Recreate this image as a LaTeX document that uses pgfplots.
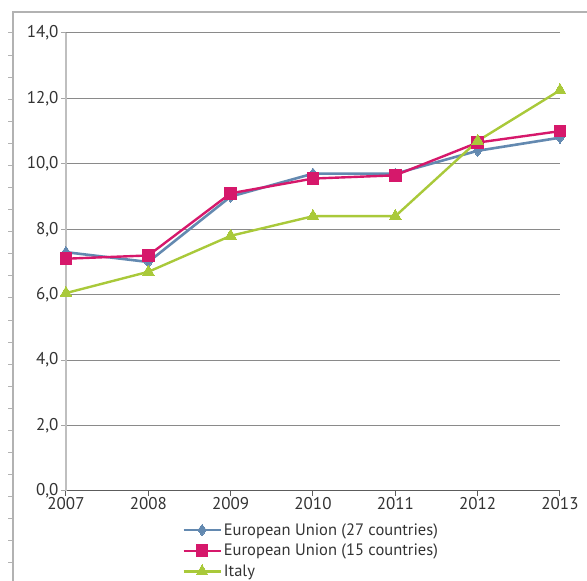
\documentclass[border=0pt]{standalone}
\usepackage{fontspec}
\setmainfont{PT Sans}
\usepackage{pgfplots}
\pgfplotsset{compat=1.18}
\definecolor{eublue}{HTML}{6389B0}
\definecolor{eumag}{HTML}{D6186B}
\definecolor{itgreen}{HTML}{A9C93A}
\definecolor{txt}{HTML}{333333}
\definecolor{gridc}{HTML}{8A8A8A}
\begin{document}
\begin{tikzpicture}
\path[use as bounding box] (0pt,0pt) rectangle (587pt,581pt);
% outer page frame
\draw[gray!60, line width=1.2pt] (13pt,0pt) -- (13pt,569pt) -- (587pt,569pt);
\foreach \k in {0,...,24} \draw[gray!60, line width=1pt] (8pt,{548pt-22.08pt*\k}) -- (13pt,{548pt-22.08pt*\k});
\begin{axis}[
  at={(66pt,90pt)}, anchor=south west,
  scale only axis, width=494pt, height=458pt,
  xmin=2007, xmax=2013, ymin=0, ymax=14,
  xtick={2007,2008,2009,2010,2011,2012,2013},
  xticklabels={2007,2008,2009,2010,2011,2012,2013},
  ytick={0,2,4,6,8,10,12,14},
  yticklabel style={xshift=1pt, /pgf/number format/.cd, fixed, fixed zerofill, precision=1, use comma, assume math mode=true},
  axis x line*=bottom, axis y line*=left,
  x axis line style={draw=txt!80, line width=1pt, -},
  y axis line style={draw=gray!50, line width=1.6pt, -},
  tick align=outside, major tick length=5pt,
  xtick style={draw=txt!80, line width=1pt},
  ytick style={draw=gray!70, line width=1pt},
  ymajorgrids, major grid style={draw=gridc, line width=1pt},
  every tick label/.append style={font=\fontsize{17}{19}\selectfont, text=txt},
  xticklabel style={yshift=2pt},
  legend style={draw=none, fill=none, at={(0.235,-0.066)}, anchor=north west,
    font=\fontsize{16.5}{19}\selectfont, text=txt, row sep=3.5pt, inner sep=0pt,
    cells={anchor=west}},
  legend image code/.code={\draw[mark repeat=2, mark phase=2, #1] plot coordinates {(0pt,0pt) (18.5pt,0pt) (37pt,0pt)};},
  clip=false,
]
\addplot[eublue, line width=2.6pt, mark=diamond*, mark size=5.6pt, mark options={solid, line width=0pt}] coordinates {
 (2007,7.3) (2008,7.0) (2009,9.0) (2010,9.7) (2011,9.7) (2012,10.4) (2013,10.8)};
\addlegendentry{European Union (27 countries)}
\addplot[eumag, line width=2.4pt, mark=square*, mark size=5.8pt, mark options={solid, line width=0pt}] coordinates {
 (2007,7.1) (2008,7.2) (2009,9.1) (2010,9.55) (2011,9.65) (2012,10.65) (2013,11.0)};
\addlegendentry{European Union (15 countries)}
\addplot[itgreen, line width=2.4pt, mark=triangle*, mark size=6.8pt, mark options={solid, line width=0pt}] coordinates {
 (2007,6.05) (2008,6.7) (2009,7.8) (2010,8.4) (2011,8.4) (2012,10.7) (2013,12.25)};
\addlegendentry{Italy}
\end{axis}
\end{tikzpicture}
\end{document}
